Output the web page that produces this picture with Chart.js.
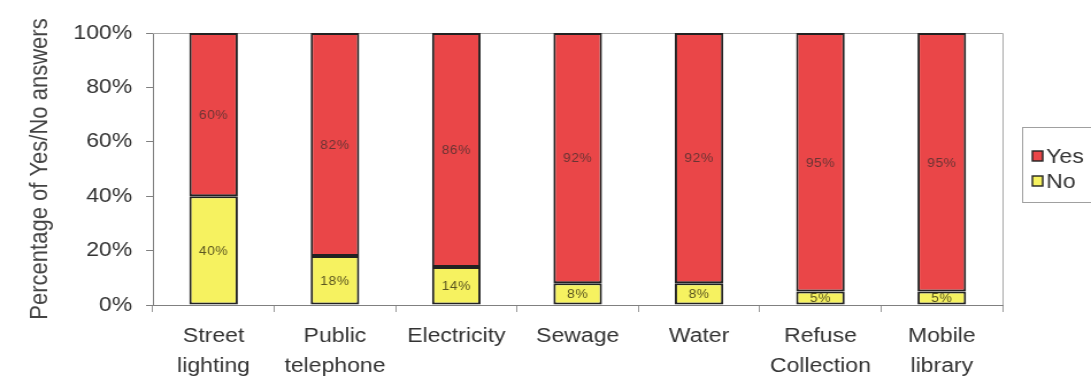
<!DOCTYPE html>
<html>
<head>
<meta charset="utf-8">
<script src="https://cdn.jsdelivr.net/npm/chart.js@4"></script>
<style>
  html, body { margin: 0; padding: 0; background: #fff; overflow: hidden; }
  #chart { display: block; width: 1091px; height: 376px; }
</style>
</head>
<body>
<canvas id="chart" width="949" height="376" style="width:1091px;height:376px"></canvas>
<script>
const categories = [
    ['Street', 'lighting'],
    ['Public', 'telephone'],
    ['Electricity'],
    ['Sewage'],
    ['Water'],
    ['Refuse', 'Collection'],
    ['Mobile', 'library']
];
const yesValues = [60, 82, 86, 92, 92, 95, 95];
const noValues = [40, 18, 14, 8, 8, 5, 5];
const yTicks = [0, 20, 40, 60, 80, 100];

const RED = 'rgb(234, 70, 72)';
const YELLOW = 'rgb(246, 242, 96)';
const FONT = "'Liberation Sans', Arial, sans-serif";

// labels in the middle of each segment
const segmentLabels = {
    id: 'segmentLabels',
    afterDatasetsDraw(chart) {
        const ctx = chart.ctx;
        ctx.save();
        ctx.font = '12px ' + FONT;
        ctx.letterSpacing = '0.5px';
        ctx.textAlign = 'center';
        ctx.textBaseline = 'middle';
        chart.data.datasets.forEach((ds, i) => {
            const meta = chart.getDatasetMeta(i);
            ctx.fillStyle = i === 1 ? '#6a3434' : '#5a5520';
            meta.data.forEach((bar, j) => {
                const y = (bar.y + bar.base) / 2;
                ctx.fillText(ds.data[j] + '%', bar.x, y + 1);
            });
        });
        ctx.restore();
    }
};

// top/right plot border and the boxed legend
const frameAndLegend = {
    id: 'frameAndLegend',
    beforeDatasetsDraw(chart) {
        const a = chart.chartArea;
        const ctx = chart.ctx;
        ctx.save();
        ctx.strokeStyle = '#a8a8a8';
        ctx.lineWidth = 1;
        ctx.beginPath();
        ctx.moveTo(a.left, a.top + 0.5);
        ctx.lineTo(a.right + 0.5, a.top + 0.5);
        ctx.lineTo(a.right + 0.5, a.bottom);
        ctx.stroke();
        ctx.restore();
    },
    afterDraw(chart) {
        const ctx = chart.ctx;
        const a = chart.chartArea;
        const bx = a.right + 17;
        ctx.save();
        ctx.strokeStyle = '#a0a0a0';
        ctx.lineWidth = 1;
        ctx.strokeRect(bx + 0.5, 127.5, 120, 75);
        const items = [
            { text: 'Yes', color: RED, y: 156 },
            { text: 'No', color: YELLOW, y: 181 }
        ];
        ctx.font = '20px ' + FONT;
        ctx.textBaseline = 'middle';
        items.forEach(it => {
            ctx.fillStyle = it.color;
            ctx.fillRect(bx + 9, it.y - 5, 9, 10);
            ctx.strokeStyle = '#222';
            ctx.lineWidth = 1.4;
            ctx.strokeRect(bx + 9, it.y - 5, 9, 10);
            ctx.fillStyle = '#333';
            ctx.fillText(it.text, bx + 21, it.y + 1);
        });
        ctx.restore();
    }
};

new Chart(document.getElementById('chart'), {
    type: 'bar',
    data: {
        labels: categories,
        datasets: [
            {
                label: 'No',
                data: noValues,
                backgroundColor: YELLOW,
                borderColor: '#222',
                borderWidth: 2,
                borderSkipped: false,
                barPercentage: 0.4,
                categoryPercentage: 1.0
            },
            {
                label: 'Yes',
                data: yesValues,
                backgroundColor: RED,
                borderColor: '#222',
                borderWidth: 2,
                borderSkipped: false,
                barPercentage: 0.4,
                categoryPercentage: 1.0
            }
        ]
    },
    options: {
        responsive: false,
        animation: false,
        devicePixelRatio: 1,
        layout: { padding: { top: 33, right: 77, left: 0, bottom: 0 } },
        plugins: {
            legend: { display: false },
            tooltip: { enabled: false }
        },
        scales: {
            x: {
                stacked: true,
                grid: {
                    offset: true,
                    drawOnChartArea: false,
                    drawTicks: true,
                    tickLength: 7,
                    color: '#9a9a9a'
                },
                border: { color: '#808080', width: 1 },
                ticks: {
                    color: '#333',
                    padding: 9,
                    maxRotation: 0,
                    autoSkip: false,
                    font: { family: FONT, size: 20, lineHeight: 1.5 }
                },
                afterFit(scale) { scale.height = 71; }
            },
            y: {
                stacked: true,
                min: 0,
                max: 100,
                afterBuildTicks(scale) {
                    scale.ticks = yTicks.map(v => ({ value: v }));
                },
                grid: {
                    drawOnChartArea: false,
                    drawTicks: true,
                    tickLength: 6,
                    color: '#808080'
                },
                border: { color: '#808080', width: 1 },
                ticks: {
                    color: '#333',
                    padding: 12,
                    font: { family: FONT, size: 20 },
                    callback: v => v + '%'
                },
                title: {
                    display: true,
                    text: 'Percentage of Yes/No answers',
                    color: '#444',
                    font: { family: FONT, size: 22 },
                    padding: { top: 22, bottom: 0 }
                },
                afterFit(scale) { scale.width = 133; }
            }
        }
    },
    plugins: [segmentLabels, frameAndLegend]
});
</script>
</body>
</html>
